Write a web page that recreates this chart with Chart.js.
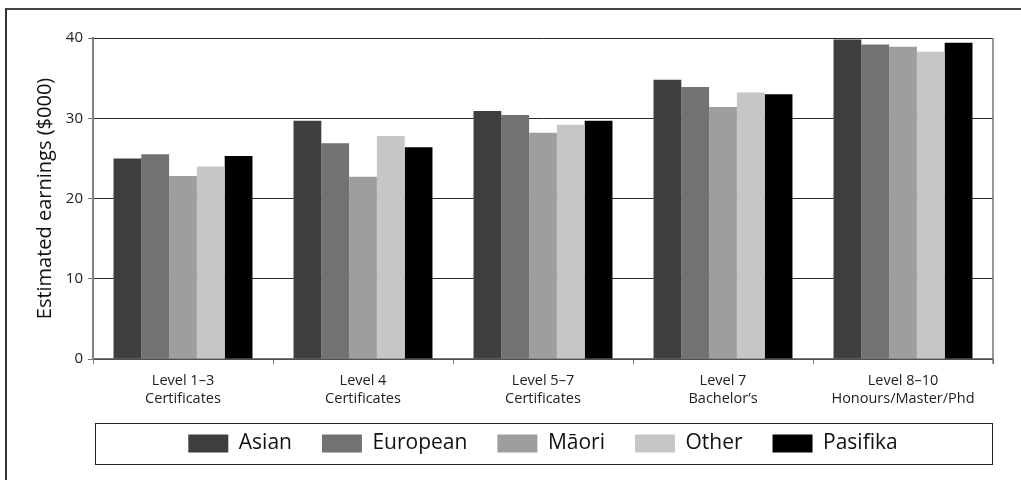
<!DOCTYPE html>
<html>
<head>
<meta charset="utf-8">
<script src="https://cdn.jsdelivr.net/npm/chart.js@4.4.1/dist/chart.umd.min.js"></script>
<style>
  html, body { margin: 0; padding: 0; background: #fff; overflow: hidden; }
  #wrap { position: relative; width: 1021px; height: 480px; }
  #frame {
    position: absolute; left: 5px; top: 8px; width: 1040px; height: 500px;
    border-left: 2px solid #333; border-top: 2px solid #444;
  }
  canvas { position: absolute; left: 0; top: 0; }
</style>
</head>
<body>
<div id="wrap">
  <div id="frame"></div>
  <canvas id="chart" width="1021" height="480"></canvas>
</div>
<script>
// Data ($000)
const categories = [
    ['Level 1–3', 'Certificates'],
    ['Level 4', 'Certificates'],
    ['Level 5–7', 'Certificates'],
    ['Level 7', 'Bachelor’s'],
    ['Level 8–10', 'Honours/Master/Phd']
];
const asian = [25.0, 29.7, 30.9, 34.8, 39.8];
const european = [25.5, 26.9, 30.4, 33.9, 39.2];
const maori = [22.8, 22.7, 28.2, 31.4, 38.9];
const other = [24.0, 27.8, 29.2, 33.2, 38.3];
const pasifika = [25.3, 26.4, 29.7, 33.0, 39.4];
const yTicks = [0, 10, 20, 30, 40];

const font = "'Open Sans', 'Noto Sans', sans-serif";

// right edge of the plot and the box round the legend
const framePlugin = {
    id: 'frames',
    afterDraw(chart) {
        const ctx = chart.ctx;
        const a = chart.chartArea;
        ctx.save();
        ctx.strokeStyle = '#777';
        ctx.lineWidth = 1.5;
        ctx.beginPath();
        ctx.moveTo(a.right, a.top);
        ctx.lineTo(a.right, a.bottom + 5);
        ctx.stroke();

        const lg = chart.legend;
        if (lg && lg.legendHitBoxes.length) {
            const hb = lg.legendHitBoxes[0];
            const yc = hb.top + hb.height / 2;
            ctx.strokeStyle = '#222';
            ctx.lineWidth = 1;
            ctx.strokeRect(a.left + 2.5, Math.round(yc - 20.5) + 0.5, a.right - a.left - 3, 41);
        }
        ctx.restore();
    }
};

const ctx = document.getElementById('chart').getContext('2d');
const chart = new Chart(ctx, {
    type: 'bar',
    data: {
        labels: categories,
        datasets: [
            { label: 'Asian', data: asian, backgroundColor: '#3e3e40' },
            { label: 'European', data: european, backgroundColor: '#717274' },
            { label: 'Māori', data: maori, backgroundColor: '#9d9ea0' },
            { label: 'Other', data: other, backgroundColor: '#c5c6c8' },
            { label: 'Pasifika', data: pasifika, backgroundColor: '#000000' }
        ]
    },
    options: {
        responsive: false,
        animation: false,
        barPercentage: 1,
        categoryPercentage: 0.772,
        layout: { padding: { top: 38, right: 28, bottom: 16, left: 0 } },
        plugins: {
            tooltip: { enabled: false },
            legend: {
                position: 'bottom',
                fullSize: false,
                labels: {
                    boxWidth: 40,
                    boxHeight: 18,
                    padding: 30,
                    color: '#111',
                    font: { family: font, size: 21 }
                }
            }
        },
        scales: {
            x: {
                grid: {
                    offset: true,
                    drawOnChartArea: false,
                    tickLength: 5,
                    color: '#777'
                },
                border: { color: '#777', width: 1.5 },
                ticks: {
                    color: '#222',
                    padding: 8,
                    maxRotation: 0,
                    font: { family: font, size: 14.5, lineHeight: 1.25 }
                },
                afterFit(scale) { scale.height = 44; }
            },
            y: {
                min: 0,
                max: 40,
                afterBuildTicks(scale) {
                    scale.ticks = yTicks.map(v => ({ value: v }));
                },
                grid: {
                    color: '#2a2a2a',
                    tickColor: '#777',
                    tickLength: 5
                },
                border: { color: '#808080', width: 2 },
                ticks: {
                    color: '#222',
                    padding: 5,
                    font: { family: font, size: 15 }
                },
                title: {
                    display: true,
                    text: 'Estimated earnings ($000)',
                    color: '#111',
                    padding: { top: 33, bottom: 0 },
                    font: { family: font, size: 20 }
                },
                afterFit(scale) { scale.width = 93; }
            }
        }
    },
    plugins: [framePlugin]
});
</script>
</body>
</html>
